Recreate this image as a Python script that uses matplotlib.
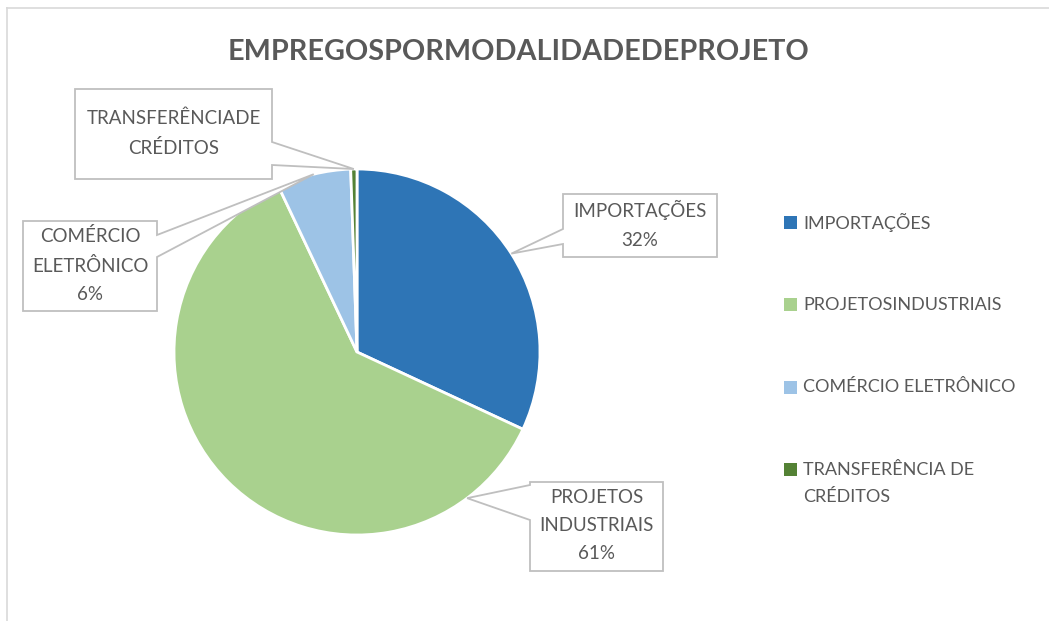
import numpy as np
import matplotlib as mpl
import matplotlib.pyplot as plt
from matplotlib.patches import Polygon, Rectangle

mpl.rc('font', family=['Lato', 'DejaVu Sans'], size=13)
mpl.rc('figure', facecolor='w')

W, H = 1049, 621
TEXT_COLOR = '#595959'
LINE_COLOR = '#bfbfbf'

# share of jobs per project modality (%)
categories = ['IMPORTAÇÕES', 'PROJETOS INDUSTRIAIS', 'COMÉRCIO ELETRÔNICO', 'TRANSFERÊNCIA DE CRÉDITOS']
values = [31.9, 60.95, 6.49, 0.55]
colors = ['#2e75b6', '#a9d18e', '#9dc3e6', '#548235']
legend_labels = ['IMPORTAÇÕES', 'PROJETOSINDUSTRIAIS', 'COMÉRCIO ELETRÔNICO', 'TRANSFERÊNCIA DE\nCRÉDITOS']
box_names = ['IMPORTAÇÕES', 'PROJETOS\nINDUSTRIAIS', 'COMÉRCIO\nELETRÔNICO', 'TRANSFERÊNCIADE\nCRÉDITOS']
show_pct = [True, True, True, False]

# callout boxes in pixels (x0, y0, x1, y1), pointer side, pointer base y's
boxes = [
    dict(rect=(563, 194, 717, 257), side='left', base=(229, 244), angle=None),
    dict(rect=(530, 482, 663, 571), side='left', base=(485, 520), angle=-53),
    dict(rect=(23, 221, 157, 311), side='right', base=(235, 257), angle=None),
    dict(rect=(75, 89, 272, 179), side='right', base=(142, 165), angle=None),
]

fig = plt.figure(figsize=(W / 100, H / 100), dpi=100)

# pie axes: centre (357, 352) px, radius 183 px
cx, cy, r = 357, 352, 183
ax = fig.add_axes([(cx - r) / W, (H - cy - r) / H, 2 * r / W, 2 * r / H])
wedges, _ = ax.pie(values, colors=colors, startangle=90, counterclock=False,
                   wedgeprops=dict(edgecolor='white', linewidth=2))
ax.set_xlim(-1, 1)
ax.set_ylim(-1, 1)

# overlay in pixel coordinates, y pointing down
ov = fig.add_axes([0, 0, 1, 1], zorder=5)
ov.set_xlim(0, W)
ov.set_ylim(H, 0)
ov.axis('off')
ov.patch.set_alpha(0)

# chart frame (top and left edges)
ov.plot([6, W], [7.5, 7.5], color='#d9d9d9', lw=1.2, solid_capstyle='butt')
ov.plot([7, 7], [7, H], color='#d9d9d9', lw=1.2, solid_capstyle='butt')

fig.canvas.draw()
to_ov = ov.transData.inverted()


def tip_point(wedge, angle):
    if angle is None:
        angle = (wedge.theta1 + wedge.theta2) / 2.0
    a = np.deg2rad(angle)
    disp = ax.transData.transform((np.cos(a), np.sin(a)))
    return to_ov.transform(disp)


def callout(rect, side, base, tip):
    x0, y0, x1, y1 = rect
    b1, b2 = base
    if side == 'left':
        pts = [(x0, y0), (x1, y0), (x1, y1), (x0, y1), (x0, b2), tip, (x0, b1)]
    else:
        pts = [(x0, y0), (x1, y0), (x1, b1), tip, (x1, b2), (x1, y1), (x0, y1)]
    return Polygon(pts, closed=True, facecolor='white', edgecolor=LINE_COLOR, lw=1.3)


total = sum(values)
for w, v, name, pct, b in zip(wedges, values, box_names, show_pct, boxes):
    tip = tip_point(w, b['angle'])
    ov.add_patch(callout(b['rect'], b['side'], b['base'], tip))
    txt = name + ('\n%d%%' % round(100 * v / total) if pct else '')
    x0, y0, x1, y1 = b['rect']
    ov.text((x0 + x1) / 2, (y0 + y1) / 2 - 1, txt, ha='center', va='center',
            color=TEXT_COLOR, linespacing=1.8, fontsize=13.5)

# legend
for i, (lab, col) in enumerate(zip(legend_labels, colors)):
    y = 222 + i * 82.5
    ov.add_patch(Rectangle((784, y - 6.5), 13, 13, facecolor=col, edgecolor='none'))
    if '\n' in lab:
        ov.text(803, y + 14, lab, ha='left', va='center', color=TEXT_COLOR,
                fontsize=13, linespacing=1.85)
    else:
        ov.text(803, y, lab, ha='left', va='center', color=TEXT_COLOR, fontsize=13)

# title, sized to span ~580 px
title = ov.text(518, 52, 'EMPREGOSPORMODALIDADEDEPROJETO', ha='center', va='center',
                color=TEXT_COLOR, fontsize=20, fontweight='bold')
fig.canvas.draw()
tw = title.get_window_extent().width
title.set_fontsize(20 * 580 / tw)

plt.savefig('out.png', dpi=100)
